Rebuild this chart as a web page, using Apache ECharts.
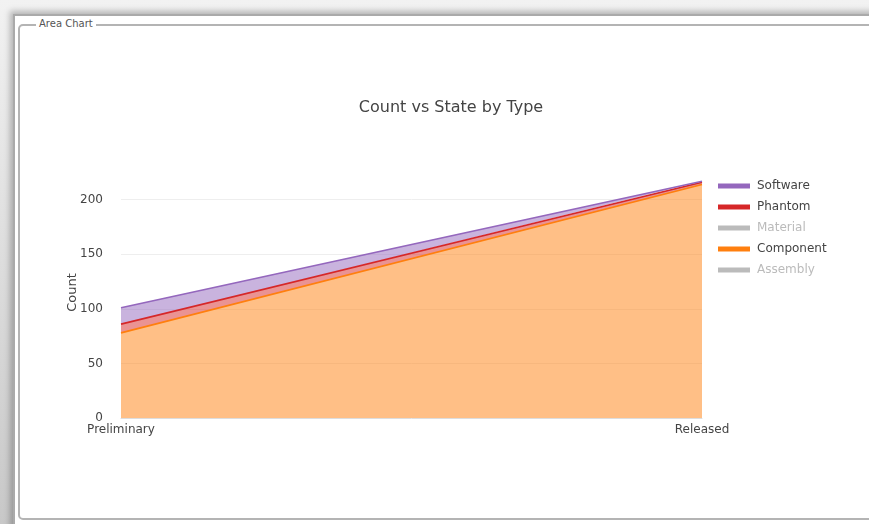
<!DOCTYPE html>
<html><head><meta charset="utf-8">
<script src="https://cdn.jsdelivr.net/npm/echarts@6/dist/echarts.min.js"></script>
<style>
html,body{margin:0;padding:0;width:869px;height:524px;overflow:hidden;background:#fff;font-family:"DejaVu Sans",sans-serif;}
#shadow{position:absolute;left:0;top:0;width:869px;height:524px;background:linear-gradient(#f2f2f2,#c8c8c8);}
#win{position:absolute;left:13px;top:14px;width:880px;height:530px;background:#fff;border-top:2px solid #aaa;border-left:2px solid #aaa;box-shadow:-3px -3px 6px rgba(0,0,0,0.25);}
#fs{position:absolute;left:18px;top:24px;width:880px;height:496px;border:2px solid #b4b4b4;border-radius:5px;box-sizing:border-box;}
#fsl{position:absolute;left:36px;top:18px;padding:0 3px;background:#fff;font-size:10px;color:#555;font-family:"DejaVu Sans",sans-serif;}
#chart{position:absolute;left:0;top:0;width:869px;height:524px;}
</style></head>
<body>
<div id="shadow"></div>
<div id="win"></div>
<div id="fs"></div>
<div id="fsl">Area Chart</div>
<div id="chart"></div>
<script>
var categories = ['Preliminary', 'Released'];
var seriesNames = ['Software', 'Phantom', 'Material', 'Component', 'Assembly'];
var assembly = [3, 4];
var component = [78, 214];
var material = [2, 3];
var phantom = [8, 2];
var software = [15, 1];
var yTicks = [0, 50, 100, 150, 200];

var colors = {Software:'#9467bd', Phantom:'#d62728', Material:'#2ca02c', Component:'#ff7f0e', Assembly:'#1f77b4'};
var fills = {Software:'rgba(148,103,189,0.5)', Phantom:'rgba(214,39,40,0.5)', Material:'rgba(44,160,44,0.5)', Component:'rgba(255,127,14,0.5)', Assembly:'rgba(31,119,180,0.5)'};
var dataMap = {Software:software, Phantom:phantom, Material:material, Component:component, Assembly:assembly};
var stackOrder = ['Assembly', 'Component', 'Material', 'Phantom', 'Software'];

function mk(name){
  return {name:name, type:'line', stack:'total', data:dataMap[name], symbol:'none',
    lineStyle:{color:colors[name], width:1.6}, itemStyle:{color:colors[name]},
    areaStyle:{color:fills[name], opacity:1}, emphasis:{disabled:true}};
}

var chart = echarts.init(document.getElementById('chart'), null, {renderer:'canvas'});
chart.setOption({
  animation:false,
  backgroundColor:'transparent',
  title:{text:'Count vs State by Type', left:446, top:95, textAlign:'center',
    textStyle:{fontFamily:'DejaVu Sans', fontSize:16, fontWeight:'normal', color:'#444'}},
  legend:{orient:'vertical', left:713, top:175, itemGap:9, itemWidth:32, itemHeight:5,
    icon:'rect', data:seriesNames, inactiveColor:'#bbb',
    selected:{Material:false, Assembly:false},
    textStyle:{fontFamily:'DejaVu Sans', fontSize:12, color:'#444', padding:[0,0,0,2]}},
  grid:{left:121, right:167, top:167, bottom:106, containLabel:false},
  xAxis:{type:'category', data:categories, boundaryGap:false,
    axisLine:{show:true, lineStyle:{color:'#ddd'}}, axisTick:{show:false},
    axisLabel:{fontFamily:'DejaVu Sans', fontSize:12, color:'#444', margin:6}},
  yAxis:{type:'value', min:0, max:230, interval:50, name:'Count', nameLocation:'middle', nameGap:42,
    nameMoveOverlap:false,
    nameTextStyle:{fontFamily:'DejaVu Sans', fontSize:13, color:'#444'},
    axisLine:{show:false}, axisTick:{show:false},
    splitLine:{showMaxLine:false, showMinLine:false, lineStyle:{color:'#eee'}},
    axisLabel:{fontFamily:'DejaVu Sans', fontSize:12, color:'#444', margin:18, showMaxLabel:false,
      formatter:function(v){return yTicks.indexOf(v)>=0 ? String(v) : '';}}},
  series: stackOrder.map(mk)
});
</script>
</body></html>
